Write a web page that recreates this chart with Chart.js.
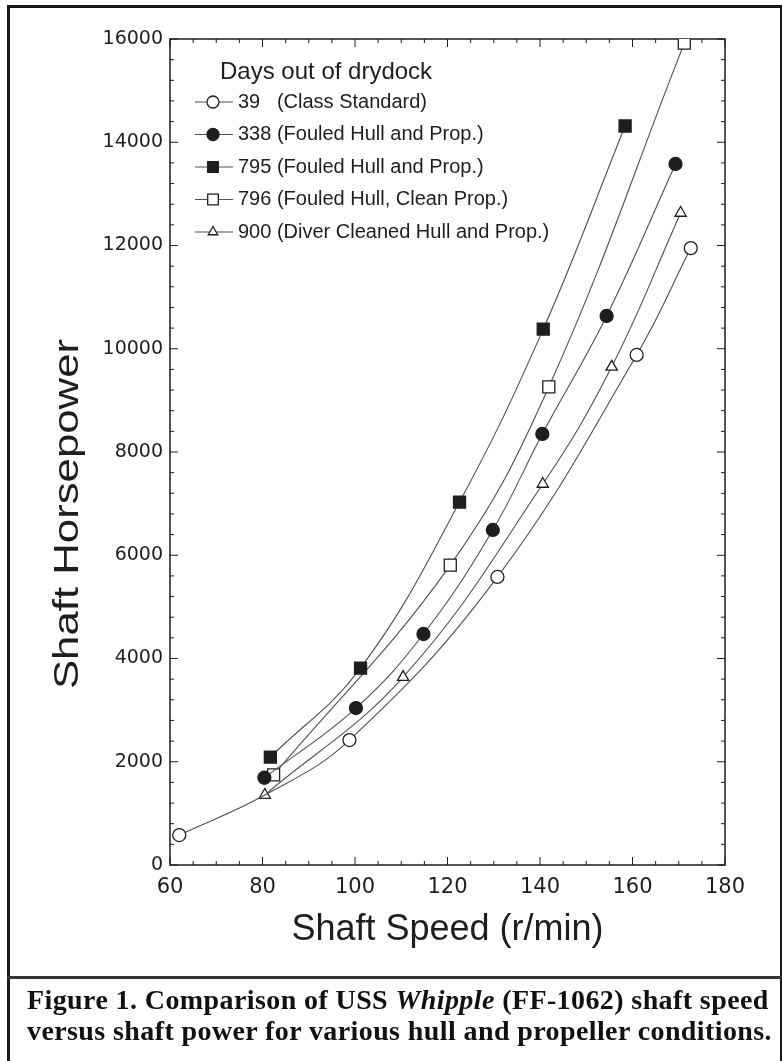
<!DOCTYPE html>
<html>
<head>
<meta charset="utf-8">
<script src="https://cdn.jsdelivr.net/npm/chart.js@4.4.1/dist/chart.umd.min.js"></script>
<style>
  html, body { margin: 0; padding: 0; background: #fff; }
  #page { position: relative; width: 782px; height: 1061px; overflow: hidden; background: #fff; }
  #chart-box { position: absolute; left: 0; top: 0; width: 782px; height: 975px; }
  #frame { position: absolute; left: 7px; top: 5px; width: 770px; height: 1100px; border: 3px solid #1a1a1a; border-bottom: none; pointer-events: none; }
  #rule { position: absolute; left: 7px; top: 976px; width: 775px; height: 3px; background: #333; }
  #caption { position: absolute; left: 27px; top: 984px; font: bold 28px "Liberation Serif", "Times New Roman", serif; letter-spacing: 0.4px; line-height: 31px; color: #111; white-space: nowrap; }
</style>
</head>
<body>
<div id="page">
  <div id="chart-box"><canvas id="chart"></canvas></div>
  <div id="frame"></div>
  <div id="rule"></div>
  <div id="caption">Figure 1. Comparison of USS <i>Whipple</i> (FF-1062) shaft speed<br>versus shaft power for various hull and propeller conditions.</div>
</div>
<script>
'use strict'

// axis ticks
const xTickValues = [60, 80, 100, 120, 140, 160, 180]
const yTickValues = [0, 2000, 4000, 6000, 8000, 10000, 12000, 14000, 16000]

const xTitle = 'Shaft Speed (r/min)'
const yTitle = 'Shaft Horsepower'
const legendTitle = 'Days out of drydock'

const seriesLabels = [
  '39   (Class Standard)',
  '338 (Fouled Hull and Prop.)',
  '795 (Fouled Hull and Prop.)',
  '796 (Fouled Hull, Clean Prop.)',
  '900 (Diver Cleaned Hull and Prop.)'
]

// shaft speed (r/min) / shaft horsepower
const speed39 = [62, 80.5, 98.8, 130.8, 160.9, 172.6]
const power39 = [580, 1355, 2420, 5580, 9880, 11950]
const speed338 = [80.4, 100.2, 114.8, 129.8, 140.5, 154.4, 169.3]
const power338 = [1690, 3040, 4475, 6490, 8350, 10635, 13580]
const speed795 = [81.7, 101.2, 122.6, 140.7, 158.4]
const power795 = [2090, 3815, 7030, 10380, 14315]
const speed796 = [82.4, 120.6, 141.9, 171.2]
const power796 = [1745, 5810, 9260, 15920]
const speed900 = [80.5, 110.4, 140.6, 155.5, 170.4]
const power900 = [1355, 3640, 7380, 9650, 12630]

const INK = '#1e1e1e'
const LINE = '#505050'
const SANS = '"Liberation Sans", Arial, sans-serif'

const markerStyles = [
  {pointStyle: 'circle', radius: 6.5, legendRadius: 6, fill: '#fff'},
  {pointStyle: 'circle', radius: 6.5, legendRadius: 6, fill: INK},
  {pointStyle: 'rect', radius: 8.5, legendRadius: 7.5, fill: INK},
  {pointStyle: 'rect', radius: 8.5, legendRadius: 7.5, fill: '#fff'},
  {pointStyle: 'triangle', radius: 6.5, legendRadius: 5.5, fill: '#fff'}
]

function toPoints (xs, ys) {
  return xs.map((x, i) => ({x: x, y: ys[i]}))
}

const seriesData = [
  [speed39, power39],
  [speed338, power338],
  [speed795, power795],
  [speed796, power796],
  [speed900, power900]
]

const datasets = seriesData.map((s, i) => {
  const m = markerStyles[i]
  // the 39-day point at ~80 r/min sits under the 900-day triangle
  const radii = s[0].map((v, j) => (i === 0 && j === 1) ? 0 : m.radius)
  return {
    label: seriesLabels[i],
    data: toPoints(s[0], s[1]),
    showLine: true,
    borderColor: LINE,
    borderWidth: 1.1,
    tension: 0.4,
    pointStyle: m.pointStyle,
    pointRadius: radii,
    pointBackgroundColor: m.fill,
    pointBorderColor: INK,
    pointBorderWidth: 1.3
  }
})


function drawMarker (ctx, m, x, y) {
  if (Chart.helpers && Chart.helpers.drawPoint) {
    Chart.helpers.drawPoint(ctx, {pointStyle: m.pointStyle, radius: m.legendRadius, borderWidth: 1.3, rotation: 0}, x, y)
  } else {
    ctx.beginPath()
    ctx.arc(x, y, m.legendRadius, 0, Math.PI * 2)
    ctx.fill()
    ctx.stroke()
  }
}


const framePlugin = {
  id: 'frame',
  beforeDatasetsDraw (chart) {
    const {ctx, chartArea: a, scales: {x, y}} = chart
    ctx.save()
    ctx.strokeStyle = INK
    ctx.lineWidth = 1.5
    ctx.strokeRect(a.left, a.top, a.right - a.left, a.bottom - a.top)
    ctx.lineWidth = 1
    ctx.beginPath()
    for (let v = y.min; v <= y.max; v += 400) {
      const py = y.getPixelForValue(v)
      const len = v % 2000 === 0 ? 8 : 4
      ctx.moveTo(a.left, py)
      ctx.lineTo(a.left + len, py)
      ctx.moveTo(a.right, py)
      ctx.lineTo(a.right - len, py)
    }
    for (let v = x.min; v <= x.max; v += 5) {
      const px = x.getPixelForValue(v)
      const len = v % 20 === 0 ? 8 : 4
      ctx.moveTo(px, a.bottom)
      ctx.lineTo(px, a.bottom - len)
      ctx.moveTo(px, a.top)
      ctx.lineTo(px, a.top + len)
    }
    ctx.stroke()
    ctx.restore()
  }
}


const legendPlugin = {
  id: 'insideLegend',
  afterDraw (chart) {
    const ctx = chart.ctx
    ctx.save()
    ctx.textBaseline = 'middle'
    ctx.textAlign = 'left'
    ctx.fillStyle = INK
    ctx.font = '24px ' + SANS
    ctx.fillText(legendTitle, 220, 72)
    ctx.font = '20px ' + SANS
    chart.data.datasets.forEach((ds, i) => {
      const y = 102 + i * 32.5
      ctx.strokeStyle = LINE
      ctx.lineWidth = 1.2
      ctx.beginPath()
      ctx.moveTo(195, y)
      ctx.lineTo(233, y)
      ctx.stroke()
      ctx.fillStyle = markerStyles[i].fill
      ctx.strokeStyle = INK
      ctx.lineWidth = 1.3
      drawMarker(ctx, markerStyles[i], 213, y)
      ctx.fillStyle = INK
      ctx.fillText(ds.label, 238, y)
    })

    // y axis title, a bit stretched like the scan
    ctx.translate(68, 514)
    ctx.rotate(-Math.PI / 2)
    ctx.scale(1.25, 1)
    ctx.textAlign = 'center'
    ctx.font = '35px ' + SANS
    ctx.fillText(yTitle, 0, 0)
    ctx.restore()
  }
}


new Chart(document.getElementById('chart'), {
  type: 'scatter',
  data: {datasets: datasets},
  plugins: [framePlugin, legendPlugin],
  options: {
    responsive: true,
    maintainAspectRatio: false,
    animation: false,
    layout: {padding: {top: 39, right: 57, left: 0, bottom: 0}},
    plugins: {
      legend: {display: false},
      tooltip: {enabled: false}
    },
    scales: {
      x: {
        type: 'linear',
        min: 60,
        max: 180,
        grid: {display: false, drawTicks: false},
        border: {display: false},
        afterBuildTicks: s => { s.ticks = xTickValues.map(v => ({value: v})) },
        afterFit: s => { s.height = 110 },
        ticks: {
          autoSkip: false,
          maxRotation: 0,
          padding: 10,
          color: INK,
          font: {family: '"DejaVu Sans"', size: 21}
        },
        title: {
          display: true,
          text: xTitle,
          color: INK,
          font: {family: SANS, size: 36, lineHeight: 1.2},
          padding: {top: 0, bottom: 23}
        }
      },
      y: {
        type: 'linear',
        min: 0,
        max: 16000,
        grid: {display: false, drawTicks: false},
        border: {display: false},
        afterBuildTicks: s => { s.ticks = yTickValues.map(v => ({value: v})) },
        afterFit: s => { s.width = 170 },
        ticks: {
          autoSkip: false,
          padding: 7,
          color: INK,
          font: {family: '"DejaVu Sans"', size: 19},
          callback: v => String(v)
        }
      }
    }
  }
})
</script>
</body>
</html>
